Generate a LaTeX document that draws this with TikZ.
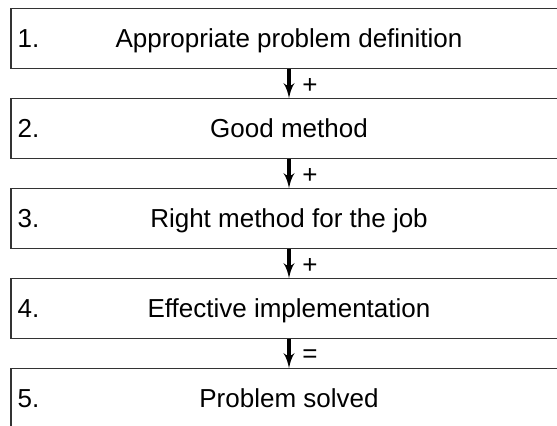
\documentclass[tikz,border=0pt]{standalone}
\usepackage{fontspec}
\setmainfont{Liberation Sans}
\usepackage{tikz}
\usetikzlibrary {positioning}
\usetikzlibrary{arrows}
\tikzset{edge/.style = {->,> = latex'}}

\begin{document}
\begin{tikzpicture}[x=0.5pt,y=-0.5pt,node distance=45pt,thick,
                stage node/.style={rectangle,draw=black!80,line width=0.6pt,minimum width=278pt,minimum height=29.75pt,inner sep=0pt,text height=9.3pt,text depth=0pt,font=\fontsize{13}{15}\selectfont},
                num/.style={anchor=west,inner sep=0pt,xshift=3.2pt,text height=9.3pt,text depth=0pt,font=\fontsize{13}{15}\selectfont},
                op/.style={right,pos=0.6,xshift=2.5pt,font=\fontsize{13}{15}\selectfont}]
                \clip (0,0) rectangle (557,425);
                \node[stage node] (1) at (289,38.5) [label={[num]west:1.}] {Appropriate problem definition};
                \node[stage node] (2) [below of=1,label={[num]west:2.}] {Good method};
                \node[stage node] (3) [below of=2,label={[num]west:3.}] {Right method for the job};
                \node[stage node] (4) [below of=3,label={[num]west:4.}] {Effective implementation};
                \node[stage node] (5) [below of=4,label={[num]west:5.}] {Problem solved};

                \path[edge,line width=1.6pt] (1) edge[] node[op] {+} (2);
                \path[edge,line width=1.6pt] (2) edge[] node[op] {+} (3);
                \path[edge,line width=1.6pt] (3) edge[] node[op] {+} (4);
                \path[edge,line width=1.6pt] (4) edge[] node[op] {=} (5);
            \end{tikzpicture}
\end{document}
